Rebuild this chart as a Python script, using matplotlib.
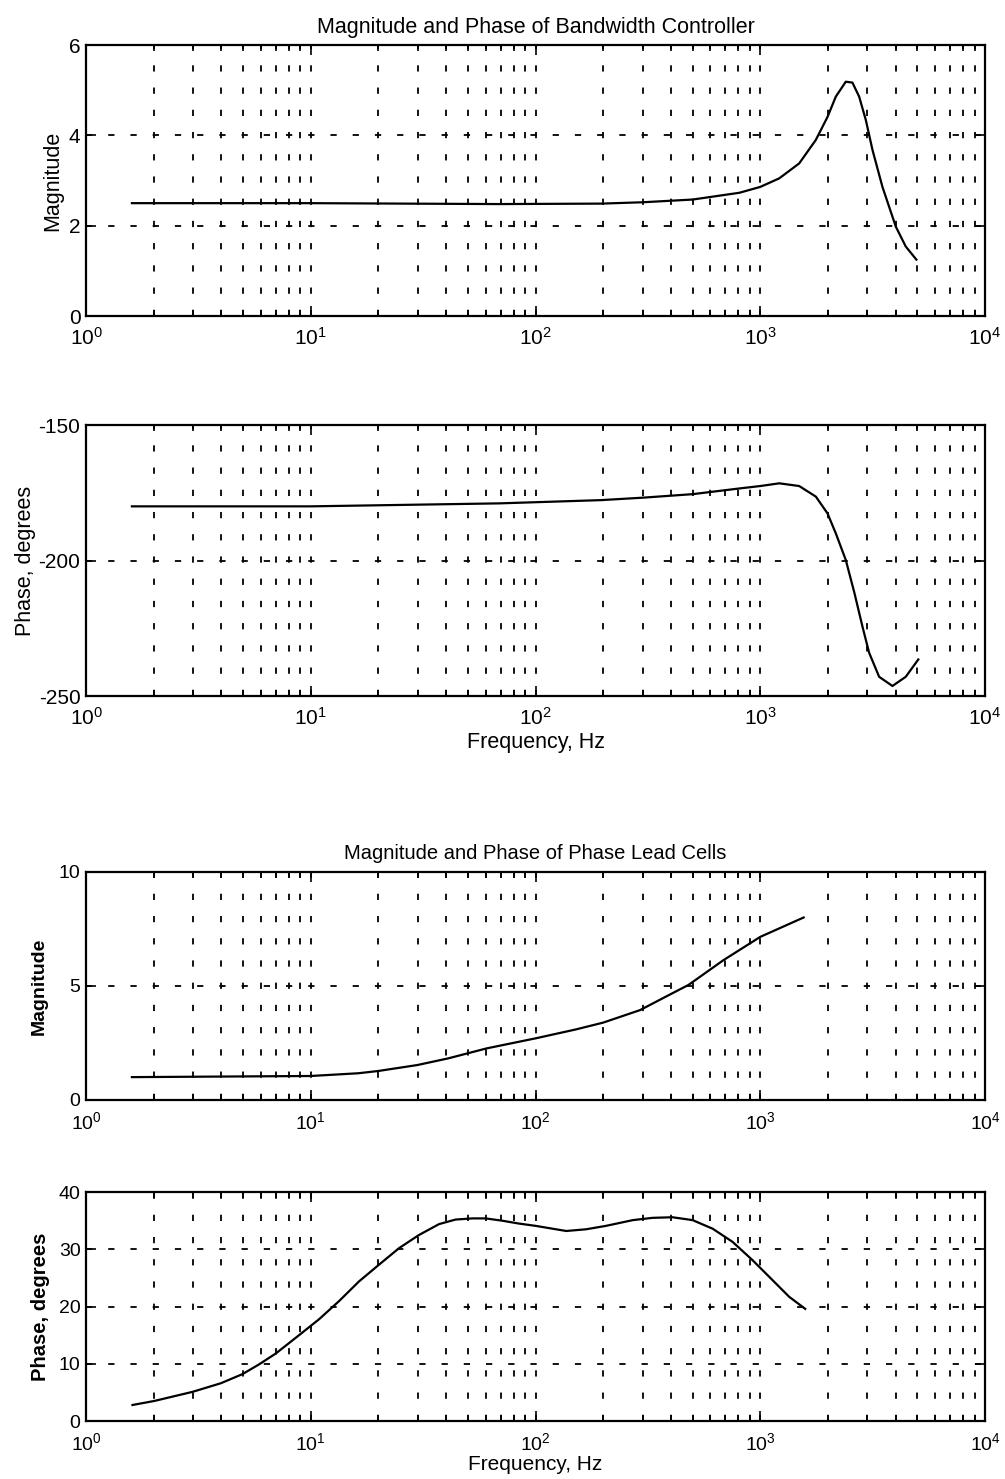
import numpy as np
import matplotlib
matplotlib.use("Agg")
import matplotlib.pyplot as plt
from matplotlib.ticker import LogLocator

plt.rcParams['font.family'] = ['Liberation Sans', 'DejaVu Sans']
plt.rcParams['lines.scale_dashes'] = False
plt.rcParams['axes.unicode_minus'] = False

# bandwidth controller
bw_freq = [1.6, 10, 69, 196, 300, 500, 807, 1000, 1215, 1490, 1767, 1992, 2169, 2402, 2571, 2754, 2950, 3157, 3497, 4010, 4440, 4950]
bw_mag = [2.5, 2.5, 2.48, 2.49, 2.52, 2.58, 2.73, 2.86, 3.05, 3.38, 3.9, 4.41, 4.86, 5.19, 5.17, 4.86, 4.34, 3.68, 2.86, 1.98, 1.54, 1.25]
bw_ph_freq = [1.6, 10, 69, 196, 300, 500, 807, 1000, 1215, 1490, 1767, 1992, 2169, 2402, 2625, 2850, 3050, 3380, 3873, 4440, 5050]
bw_phase = [-180, -180, -178.9, -177.7, -176.8, -175.5, -173.4, -172.5, -171.5, -172.5, -176.4, -182.6, -190, -199.8, -212, -224.4, -234, -242.9, -246.3, -242.9, -236.5]

# phase lead cells
pl_freq = [1.6, 10, 16.3, 20, 29.8, 40.8, 60.6, 100, 151, 200, 292, 405, 479, 686, 1000, 1560]
pl_mag = [1.0, 1.05, 1.17, 1.27, 1.53, 1.82, 2.26, 2.7, 3.09, 3.39, 3.94, 4.67, 5.04, 6.13, 7.15, 8.0]
pl_ph_freq = [1.61, 2.01, 2.98, 3.98, 4.97, 5.89, 6.99, 8.87, 10.9, 13.4, 16.4, 20.1, 24.7, 30.3, 37.2, 44.1, 52.3, 60, 71.1, 84.3,
              100, 137, 168, 206, 271, 332, 407, 500, 614, 753, 924, 1135, 1345, 1585]
pl_phase = [2.8, 3.5, 5.1, 6.6, 8.2, 9.9, 11.8, 15.0, 17.8, 21.0, 24.4, 27.3, 30.2, 32.5, 34.4, 35.2, 35.4, 35.4, 35.0, 34.5,
            34.1, 33.2, 33.5, 34.1, 35.1, 35.5, 35.6, 35.1, 33.6, 31.3, 28.1, 24.6, 21.7, 19.6]

fig = plt.figure(figsize=(10.05, 14.79), dpi=100)

def setup(ax, yticks, size):
    ax.set_xscale('log')
    ax.set_xlim(1, 1e4)
    ax.set_ylim(yticks[0], yticks[-1])
    ax.set_yticks(yticks)
    ax.xaxis.set_major_locator(LogLocator(base=10, numticks=10))
    ax.xaxis.set_minor_locator(LogLocator(base=10, subs=np.arange(2, 10), numticks=20))
    ax.tick_params(which='both', direction='in', top=True, right=True, labelsize=size, width=1.2)
    ax.tick_params(which='major', length=7)
    ax.tick_params(which='minor', length=4)
    ax.tick_params(axis='x', pad=8)
    ax.tick_params(axis='y', pad=4)
    ax.xaxis.grid(True, which='both', color='black', linestyle=(0, (4.5, 11.5)), linewidth=1.3)
    ax.yaxis.grid(True, which='major', color='black', linestyle=(0, (4.5, 11.5)), linewidth=1.3)
    for s in ax.spines.values():
        s.set_linewidth(1.6)

ax1 = fig.add_axes([0.0856, 0.7863, 0.8945, 0.1832])
setup(ax1, [0, 2, 4, 6], 15)
ax1.plot(bw_freq, bw_mag, color='black', linewidth=1.6)
ax1.set_ylabel('Magnitude', fontsize=15.5, labelpad=4)
ax1.set_title('Magnitude and Phase of Bandwidth Controller', fontsize=15.5, pad=9)

ax2 = fig.add_axes([0.0856, 0.5294, 0.8945, 0.1832])
setup(ax2, [-250, -200, -150], 15)
ax2.plot(bw_ph_freq, bw_phase, color='black', linewidth=1.6)
ax2.set_ylabel('Phase, degrees', fontsize=15.5, labelpad=2)
ax2.set_xlabel('Frequency, Hz', fontsize=15.5, labelpad=2)

ax3 = fig.add_axes([0.0856, 0.2563, 0.8945, 0.1542])
setup(ax3, [0, 5, 10], 14)
ax3.plot(pl_freq, pl_mag, color='black', linewidth=1.6)
ax3.set_ylabel('Magnitude', fontsize=14, fontweight='bold', labelpad=8)
ax3.set_title('Magnitude and Phase of Phase Lead Cells', fontsize=14.5, pad=9)

ax4 = fig.add_axes([0.0856, 0.0392, 0.8945, 0.1548])
setup(ax4, [0, 10, 20, 30, 40], 14)
ax4.plot(pl_ph_freq, pl_phase, color='black', linewidth=1.6)
ax4.set_ylabel('Phase, degrees', fontsize=14.5, fontweight='bold', labelpad=6)
ax4.set_xlabel('Frequency, Hz', fontsize=15, labelpad=1)

fig.savefig('out.png', dpi=100)
